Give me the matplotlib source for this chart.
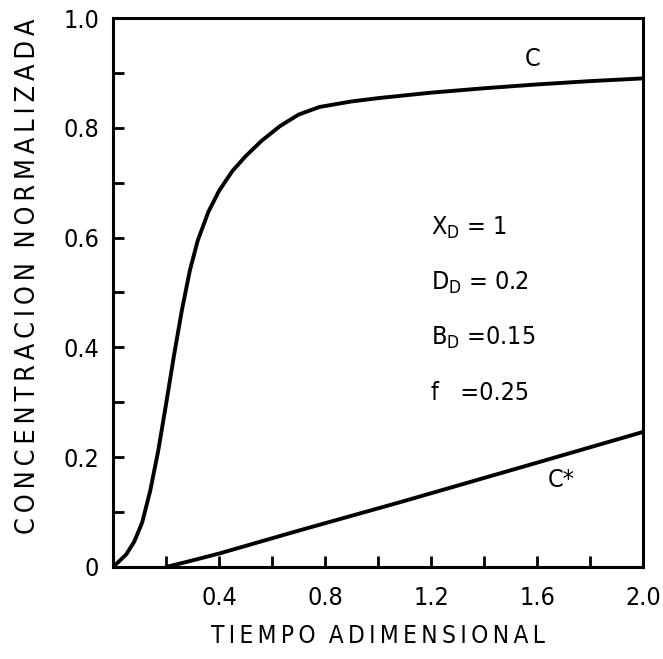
import matplotlib
matplotlib.use("Agg")
import matplotlib.pyplot as plt
from matplotlib.ticker import MultipleLocator, FixedLocator

# Data
c_x = [0, 0.02, 0.05, 0.08, 0.11, 0.14, 0.17, 0.20, 0.23, 0.26, 0.29, 0.32, 0.36,
       0.40, 0.45, 0.50, 0.56, 0.63, 0.70, 0.78, 0.90, 1.0, 1.2, 1.4, 1.6, 1.8, 2.0]
c_y = [0, 0.009, 0.023, 0.046, 0.081, 0.138, 0.21, 0.296, 0.385, 0.468, 0.540, 0.595,
       0.647, 0.685, 0.721, 0.748, 0.776, 0.803, 0.824, 0.838, 0.848, 0.854, 0.864,
       0.872, 0.879, 0.885, 0.89]
cs_x = [0.2, 0.3, 0.404, 0.706, 1.083, 1.6, 2.0]
cs_y = [0.0, 0.012, 0.025, 0.067, 0.118, 0.19, 0.246]

x_ticklabels = ["0.4", "0.8", "1.2", "1.6", "2.0"]
y_ticklabels = ["0", "0.2", "0.4", "0.6", "0.8", "1.0"]
params = ["$\\mathregular{X_D}$ = 1", "$\\mathregular{D_D}$ = 0.2",
          "$\\mathregular{B_D}$ =0.15", "f   =0.25"]

plt.rcParams['font.family'] = ['DejaVu Sans']
plt.rcParams['font.stretch'] = 'condensed'

TS = "\u2009"
def spaced(s):
    return TS.join(list(s)).replace(TS + " " + TS, TS * 3)

fig = plt.figure(figsize=(6.63, 6.59), dpi=100)
ax = fig.add_axes([113/663, 1-567/659, 530/663, 549/659])

ax.plot(c_x, c_y, color='black', lw=2.8, solid_capstyle='round', solid_joinstyle='round')
ax.plot(cs_x, cs_y, color='black', lw=2.8, solid_capstyle='round', solid_joinstyle='round')

ax.set_xlim(0, 2.0)
ax.set_ylim(0, 1.0)

ax.xaxis.set_major_locator(FixedLocator([0.4, 0.8, 1.2, 1.6, 2.0]))
ax.set_xticklabels(x_ticklabels)
ax.xaxis.set_minor_locator(FixedLocator([0.2, 0.6, 1.0, 1.4, 1.8]))
ax.yaxis.set_major_locator(FixedLocator([0, 0.2, 0.4, 0.6, 0.8, 1.0]))
ax.set_yticklabels(y_ticklabels)
ax.yaxis.set_minor_locator(MultipleLocator(0.1))

ax.tick_params(which='both', direction='in', width=2, color='black')
ax.tick_params(which='major', length=8, labelsize=18, pad=10)
ax.tick_params(which='minor', length=8)
ax.tick_params(axis='x', which='major', pad=14)
for s in ax.spines.values():
    s.set_linewidth(2.2)

ax.set_xlabel(spaced("TIEMPO ADIMENSIONAL"), fontsize=17.5, labelpad=10)
ax.set_ylabel(spaced("CONCENTRACION NORMALIZADA"), fontsize=19.4)
ax.yaxis.set_label_coords(-0.135, 0.53)

ax.text(1.585, 0.925, "C", fontsize=18, ha='center', va='center')
ax.text(1.69, 0.158, "C*", fontsize=18, ha='center', va='center')

for i, p in enumerate(params):
    ax.text(1.2, 0.617 - 0.1 * i, p, fontsize=18, ha='left', va='center')

fig.savefig("out.png", dpi=100)
